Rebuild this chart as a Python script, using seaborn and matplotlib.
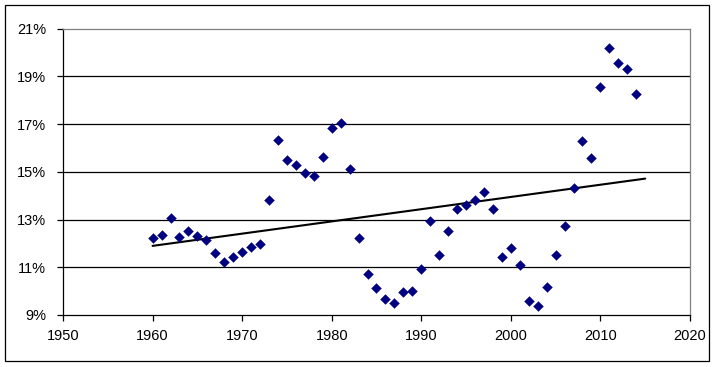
import matplotlib
matplotlib.use("Agg")
import matplotlib.pyplot as plt
from matplotlib.patches import Rectangle
import seaborn as sns
import numpy as np
import pandas as pd

# Data (percent)
years = list(range(1960, 2015))
rates = [12.21, 12.37, 13.07, 12.29, 12.54, 12.33, 12.16, 11.58, 11.24, 11.45,
         11.66, 11.83, 11.96, 13.84, 16.35, 15.51, 15.30, 14.97, 14.84, 15.63,
         16.85, 17.06, 15.13, 12.21, 10.70, 10.12, 9.66, 9.49, 9.95, 9.99,
         10.91, 12.96, 11.50, 12.54, 13.46, 13.63, 13.84, 14.17, 13.46, 11.41,
         11.79, 11.08, 9.57, 9.36, 10.16, 11.50, 12.71, 14.34, 16.30, 15.59,
         18.56, 20.19, 19.56, 19.31, 18.27]
trend_span = [1960, 2015]
x_ticks = [1950, 1960, 1970, 1980, 1990, 2000, 2010, 2020]
y_ticks = [9, 11, 13, 15, 17, 19, 21]

df = pd.DataFrame({"year": years, "rate": rates})

# linear trendline like Excel's
slope, intercept = np.polyfit(df["year"], df["rate"], 1)
trend = pd.DataFrame({"year": trend_span})
trend["rate"] = slope * trend["year"] + intercept

sns.set_style("white")
plt.rcParams["font.family"] = ["Liberation Sans", "DejaVu Sans"]

fig = plt.figure(figsize=(7.17, 3.67), dpi=100)
ax = fig.add_axes([0.0879, 0.1417, 0.9623 - 0.0879, 0.9218 - 0.1417])

sns.scatterplot(data=df, x="year", y="rate", marker="D", s=25, color="#000080",
                edgecolor="#000080", linewidth=0.3, ax=ax, zorder=3)
sns.lineplot(data=trend, x="year", y="rate", color="black", linewidth=1.5, ax=ax, zorder=2)

ax.set_xlim(1950, 2020)
ax.set_ylim(9, 21)
ax.set_xticks(x_ticks)
ax.set_yticks(y_ticks)
ax.set_yticklabels([f"{v}%" for v in y_ticks])
ax.set_xlabel("")
ax.set_ylabel("")

for v in y_ticks[1:-1]:
    ax.axhline(v, color="black", linewidth=0.9, zorder=1)

ax.spines["left"].set_color("black")
ax.spines["bottom"].set_color("black")
ax.spines["top"].set_color("#808080")
ax.spines["right"].set_color("#808080")
for s in ax.spines.values():
    s.set_linewidth(0.9)

ax.tick_params(axis="both", direction="out", length=4, width=0.9, color="black",
               labelsize=10.5, labelcolor="black", pad=5)
ax.tick_params(axis="y", pad=8, left=True)
ax.tick_params(axis="x", bottom=True, pad=6)

# outer chart border
fig.patches.append(Rectangle((5 / 717, 6 / 367), 704 / 717, 356 / 367, transform=fig.transFigure,
                             fill=False, edgecolor="black", linewidth=0.9))

fig.savefig("out.png", dpi=100)
